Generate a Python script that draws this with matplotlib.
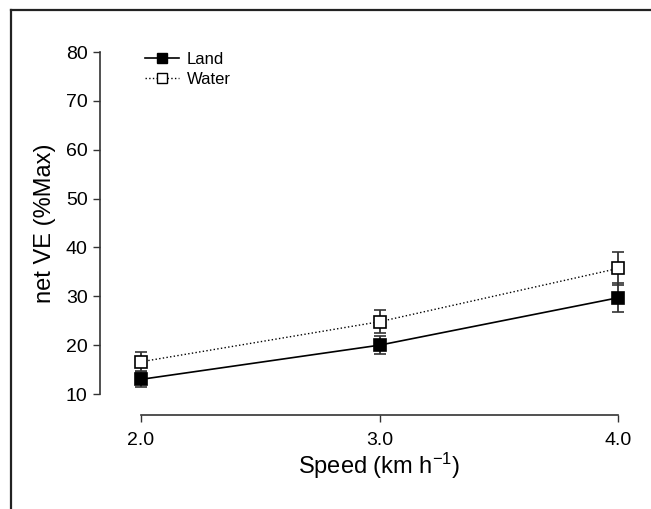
import matplotlib
matplotlib.use("Agg")
import matplotlib.pyplot as plt
from matplotlib.lines import Line2D

plt.rcParams['font.family'] = ['Liberation Sans', 'DejaVu Sans']
plt.rcParams['mathtext.default'] = 'regular'

speed = [2.0, 3.0, 4.0]
land = [13.0, 20.0, 29.7]
land_err = [1.6, 1.8, 3.0]
water = [16.6, 24.8, 35.7]
water_err = [1.9, 2.3, 3.3]
yticks = [10, 20, 30, 40, 50, 60, 70, 80]
xticks = [2.0, 3.0, 4.0]
xticklabels = ['2.0', '3.0', '4.0']

fig = plt.figure(figsize=(6.51, 5.09), dpi=100)
ax = fig.add_axes([0.2166, 0.2259, 0.7327, 0.6719])

ax.errorbar(speed, water, yerr=water_err, fmt='s', color='black', ls=':', lw=1.0,
            mfc='white', mec='black', ms=8, mew=1.2, ecolor='#333333', elinewidth=1.3,
            capsize=4.3, capthick=1.3, clip_on=False, zorder=3, label='Water')
ax.errorbar(speed, land, yerr=land_err, fmt='s', color='black', ls='-', lw=1.2,
            mfc='black', mec='black', ms=8, mew=1.2, ecolor='#333333', elinewidth=1.3,
            capsize=4.3, capthick=1.3, clip_on=False, zorder=4, label='Land')

ax.set_xlim(2.0, 4.0)
ax.set_ylim(10, 80)
ax.set_yticks(yticks)
ax.set_xticks(xticks)
ax.set_xticklabels(xticklabels)
ax.tick_params(axis='both', direction='out', length=5, width=1.0, labelsize=14, color='#333333')
ax.tick_params(axis='y', pad=4)
ax.tick_params(axis='x', pad=7)

for s in ['top', 'right']:
    ax.spines[s].set_visible(False)
ax.spines['left'].set_position(('outward', 29.5))
ax.spines['bottom'].set_position(('outward', 15))
ax.spines['left'].set_bounds(10, 80)
ax.spines['bottom'].set_bounds(2.0, 4.0)
for s in ['left', 'bottom']:
    ax.spines[s].set_linewidth(1.2)
    ax.spines[s].set_color('#333333')

ax.set_xlabel('Speed (km h$^{-1}$)', fontsize=17, labelpad=2)
ax.set_ylabel('net VE (%Max)', fontsize=17, labelpad=7)

handles = [
    Line2D([], [], color='black', ls='-', lw=1.2, marker='s', ms=7, mfc='black', mec='black'),
    Line2D([], [], color='black', ls=':', lw=1.0, marker='s', ms=7, mfc='white', mec='black'),
]
ax.legend(handles, ['Land', 'Water'], loc='upper left', bbox_to_anchor=(-0.005, 1.02),
          frameon=False, fontsize=12, handlelength=2.0, handletextpad=0.5,
          labelspacing=0.3, borderaxespad=0.0)

# figure frame (top and left borders)
fig.add_artist(Line2D([11/651, 1.0], [1 - 10/509, 1 - 10/509], transform=fig.transFigure,
                      color='#222222', lw=1.6))
fig.add_artist(Line2D([11/651, 11/651], [0.0, 1 - 10/509], transform=fig.transFigure,
                      color='#222222', lw=1.6))

fig.savefig('out.png', dpi=100)
